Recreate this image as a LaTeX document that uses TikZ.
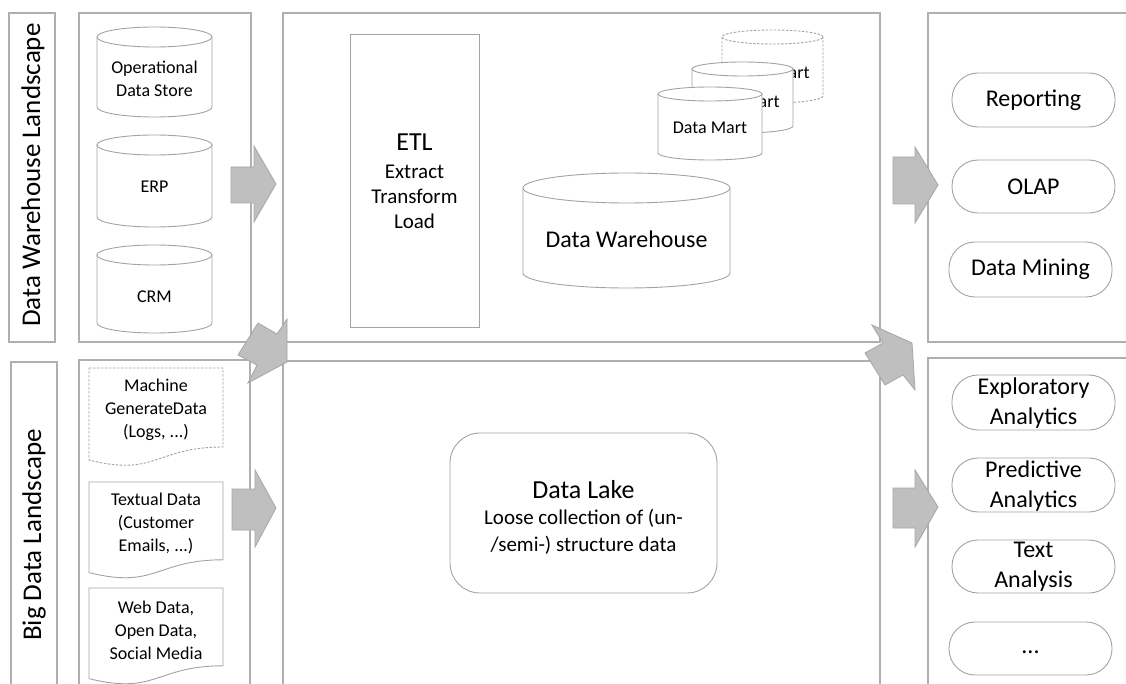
\documentclass[tikz,border=0pt]{standalone}
\usepackage{fontspec}
\setmainfont{Carlito}
\definecolor{panelgray}{HTML}{AFAFAF}
\definecolor{shapegray}{HTML}{A3A3A3}
\definecolor{arrowfill}{HTML}{BFBFBF}
\definecolor{arrowedge}{HTML}{A6A6A6}
\newcommand\mycyl[6]{%
  \pgfmathsetmacro\cxc{(#1+#2)/2}%
  \pgfmathsetmacro\crx{(#2-#1)/2}%
  \pgfmathsetmacro\ck{0.5523*#5}%
  \pgfmathsetmacro\ckx{0.5523*\crx}%
  \fill[white] (#1,#3) -- (#1,#4) .. controls +(0,\ck) and +(-\ckx,0) .. (\cxc,#4+#5) .. controls +(\ckx,0) and +(0,\ck) .. (#2,#4) -- (#2,#3) -- cycle;
  \draw[shp,#6] (#1,#3) -- (#1,#4) .. controls +(0,\ck) and +(-\ckx,0) .. (\cxc,#4+#5) .. controls +(\ckx,0) and +(0,\ck) .. (#2,#4) -- (#2,#3);
  \draw[shp,#6] (\cxc,#3) ellipse [x radius=\crx pt, y radius=#5 pt];
}
\newcommand\mydoc[5]{%
  \pgfmathsetmacro\dxm{(#1+#2)/2}%
  \draw[shp,#5] (#1,#3) -- (#2,#3) -- (#2,#3+0.802*#4) .. controls (\dxm,#3+0.802*#4) and (\dxm,#3+1.107*#4) .. (#1,#3+0.934*#4) -- cycle;
}
\begin{document}
\begin{tikzpicture}[x=1pt,y=-1pt,
  panel/.style={draw=panelgray, line width=1.3pt},
  shp/.style={draw=shapegray, line width=0.9pt, fill=white},
  blk/.style={fill=arrowfill, draw=arrowedge, line width=0.8pt, line join=miter},
  txt/.style={inner sep=0pt, align=center, text=black},
  dashst/.style={dash pattern=on 2.5pt off 1.5pt},
  pill/.style={shp, rounded corners=26pt, inner sep=0pt},
  f18/.style={font=\fontsize{18}{23}\selectfont},
  f21/.style={font=\fontsize{21}{25}\selectfont},
  f24/.style={font=\fontsize{24}{30}\selectfont},
  f26/.style={font=\fontsize{26}{30}\selectfont},
]
\useasboundingbox (0,0) rectangle (1126,684);
% panels
\draw[panel] (9,13) rectangle (55,342);
\draw[panel] (11,362) rectangle (57,700);
\draw[panel] (79,13) rectangle (251,342);
\draw[panel] (79,360) rectangle (250,700);
\draw[panel] (283,13) rectangle (880,342);
\draw[panel] (283,361) rectangle (880,700);
\draw[panel] (928,13) rectangle (1140,342);
\draw[panel] (928,358) rectangle (1140,700);
% side labels
\node[txt, rotate=90, font=\fontsize{27}{32}\selectfont] (dwl) at (33,175) {Data Warehouse Landscape};
\node[txt, rotate=90, font=\fontsize{27}{32}\selectfont] (bdl) at (34,535) {Big Data Landscape};
% source cylinders
\mycyl{97}{212}{37}{107}{10}{}
\node[txt,f18] (ods) at (154.5,79) {Operational\\Data Store};
\mycyl{97}{212}{145}{217}{10}{}
\node[txt,f18] (erp) at (154.5,187) {ERP};
\mycyl{97}{212}{255}{323}{10}{}
\node[txt,f18] (crm) at (154.5,297) {CRM};
% documents
\mydoc{89}{223}{368}{98.5}{dashst}
\node[txt,f18] (mach) at (156,410) {Machine\\GenerateData\\(Logs, ...)};
\mydoc{89}{223}{482}{97}{}
\node[txt,f18] (textd) at (156,523) {Textual Data\\(Customer\\Emails, ...)};
\mydoc{89}{223}{588}{97}{}
\node[txt,f18] (webd) at (156,630) {Web Data,\\Open Data,\\Social Media};
% ETL
\node[shp, minimum width=129pt, minimum height=293pt, inner sep=0pt] (etl) at (414.5,180.5) {};
\node[txt,f26] (etlt) at (414.5,142) {ETL};
\node[txt,f21] (etls) at (414.5,197) {Extract\\Transform\\Load};
% data marts
\mycyl{722}{823}{37}{96}{7}{dashst}
\node[txt,f18] (dm3) at (772.5,73) {Data Mart};
\mycyl{692}{793}{69}{126}{7}{}
\node[txt,f18] (dm2) at (742.5,102) {Data Mart};
\mycyl{658}{762}{94}{153}{7}{}
\node[txt,f18] (dm1) at (710,128) {Data Mart};
% data warehouse
\mycyl{523}{730}{188}{273}{15}{}
\node[txt,f24] (dw) at (626.5,239) {Data Warehouse};
% data lake
\node[shp, rounded corners=30pt, minimum width=267pt, minimum height=160pt, inner sep=0pt] (lake) at (583.5,513) {};
\node[txt,f26] (laket) at (583.5,490) {Data Lake};
\node[txt,font=\fontsize{21}{27}\selectfont] (lakes) at (583.5,531.5) {Loose collection of (un-\\/semi-) structure data};
% right pills top
\node[pill, minimum width=163pt, minimum height=54pt] (rep) at (1033.5,100) {};
\node[txt,f24] (rept) at (1033.5,100) {Reporting};
\node[pill, minimum width=163pt, minimum height=53pt] (olap) at (1033.5,186.5) {};
\node[txt,f24] (olapt) at (1033.5,186.5) {OLAP};
\node[pill, minimum width=163pt, minimum height=55pt] (dmin) at (1030.5,269.5) {};
\node[txt,f24] (dmint) at (1030.5,269.5) {Data Mining};
% right pills bottom
\node[pill, minimum width=163pt, minimum height=55pt] (expl) at (1033.5,402.5) {};
\node[txt,f24] (explt) at (1033.5,403) {Exploratory\\Analytics};
\node[pill, minimum width=163pt, minimum height=54pt] (pred) at (1033.5,485) {};
\node[txt,f24] (predt) at (1033.5,486) {Predictive\\Analytics};
\node[pill, minimum width=163pt, minimum height=53pt] (texa) at (1033.5,566.5) {};
\node[txt,f24] (texat) at (1033.5,567) {Text\\Analysis};
\node[pill, minimum width=163pt, minimum height=53pt] (more) at (1030.5,648.5) {};
\node[txt,f24] (moret) at (1030.5,652) {...};
% block arrows
\draw[blk] (231,167) -- (254,167) -- (254,146) -- (276,184) -- (254,222) -- (254,203) -- (231,203) -- cycle;
\draw[blk] (232,489) -- (255,489) -- (255,470) -- (276,508) -- (255,547) -- (255,530) -- (232,530) -- cycle;
\draw[blk] (893,157) -- (915,157) -- (915,147) -- (938,185) -- (915,223) -- (915,204) -- (893,204) -- cycle;
\draw[blk] (893,488) -- (915,488) -- (915,470) -- (938,507) -- (915,547) -- (915,528) -- (893,528) -- cycle;
\draw[blk] (238,355) -- (258,323) -- (277,334) -- (287,319) -- (287,362) -- (248,383) -- (257,365) -- cycle;
\draw[blk] (865,353) -- (883,343) -- (872,325) -- (912,343) -- (915,390) -- (903,375) -- (885,385) -- cycle;
\end{tikzpicture}
\end{document}
